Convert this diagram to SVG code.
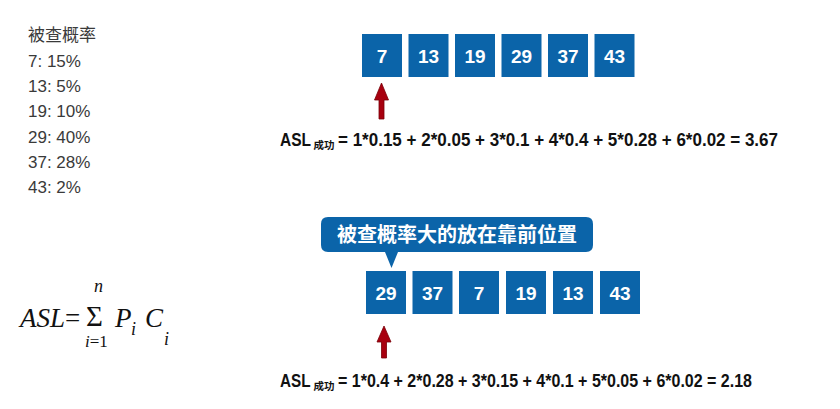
<svg xmlns="http://www.w3.org/2000/svg" width="840" height="409" viewBox="0 0 840 409">
<defs>
<style>
.box{fill:#0b64a9;}
.num{font-family:"Liberation Sans","Noto Sans",sans-serif;font-weight:bold;font-size:19px;fill:#fff;text-anchor:middle;}
.list{font-family:"Liberation Sans","Noto Sans CJK SC",sans-serif;font-size:17px;fill:#3a3a3a;}
.f{font-family:"Liberation Sans","Noto Sans CJK SC",sans-serif;font-weight:bold;fill:#111;}
.math{font-family:"Liberation Serif","Times New Roman",serif;fill:#111;}
.arrow{fill:#a8000f;stroke:#7a0008;stroke-width:0.8;}
.callout{fill:#0b64a9;}
.ctext{font-family:"Noto Sans CJK SC",sans-serif;font-weight:bold;font-size:20px;fill:#fff;text-anchor:middle;}
</style>
<path id="arr" d="M0,0 L7,17 L2.5,17 L2.5,36 L-2.5,36 L-2.5,17 L-7,17 Z"/>
<path id="arr2" d="M0,0 L7,16 L2.5,16 L2.5,32 L-2.5,32 L-2.5,16 L-7,16 Z"/>
</defs>
<rect width="840" height="409" fill="#fff"/>

<g id="prob-list">
<text class="list" x="28" y="41">被查概率</text>
<text class="list" x="28" y="66.5">7: 15%</text>
<text class="list" x="28" y="92">13: 5%</text>
<text class="list" x="28" y="117">19: 10%</text>
<text class="list" x="28" y="142.5">29: 40%</text>
<text class="list" x="28" y="168">37: 28%</text>
<text class="list" x="28" y="193">43: 2%</text>
</g>

<g id="top-array">
<g id="t7"><rect class="box" x="362" y="34" width="40" height="43"/><text class="num" x="382" y="62.5">7</text></g>
<g id="t13"><rect class="box" x="408.5" y="34" width="40" height="43"/><text class="num" x="428.5" y="62.5">13</text></g>
<g id="t19"><rect class="box" x="455" y="34" width="40" height="43"/><text class="num" x="475" y="62.5">19</text></g>
<g id="t29"><rect class="box" x="501.5" y="34" width="40" height="43"/><text class="num" x="521.5" y="62.5">29</text></g>
<g id="t37"><rect class="box" x="548" y="34" width="40" height="43"/><text class="num" x="568" y="62.5">37</text></g>
<g id="t43"><rect class="box" x="594.5" y="34" width="40" height="43"/><text class="num" x="614.5" y="62.5">43</text></g>
</g>

<g id="connectors">
<use href="#arr" class="arrow" x="381.5" y="83"/>
<use href="#arr2" class="arrow" x="384" y="326"/>
</g>

<g id="formula-top">
<text class="f" x="280" y="145.5" font-size="17.5" textLength="31" lengthAdjust="spacingAndGlyphs">ASL</text>
<text class="f" x="313.5" y="148.5" font-size="10.5" font-family="Noto Sans CJK SC,sans-serif">成功</text>
<text class="f" x="338" y="145.5" font-size="18" textLength="440" lengthAdjust="spacingAndGlyphs">= 1*0.15 + 2*0.05 + 3*0.1 + 4*0.4 + 5*0.28 + 6*0.02 = 3.67</text>
</g>

<g id="callout">
<path class="callout" d="M328,217 H586 Q593,217 593,224 V245 Q593,252 586,252 H398 L391.5,268 L385,252 H328 Q321,252 321,245 V224 Q321,217 328,217 Z"/>
<text class="ctext" x="457" y="241.5">被查概率大的放在靠前位置</text>
</g>

<g id="bottom-array">
<g id="b29"><rect class="box" x="366" y="271" width="40" height="43"/><text class="num" x="386" y="299.5">29</text></g>
<g id="b37"><rect class="box" x="412.5" y="271" width="40" height="43"/><text class="num" x="432.5" y="299.5">37</text></g>
<g id="b7"><rect class="box" x="459" y="271" width="40" height="43"/><text class="num" x="479" y="299.5">7</text></g>
<g id="b19"><rect class="box" x="506" y="271" width="40" height="43"/><text class="num" x="526" y="299.5">19</text></g>
<g id="b13"><rect class="box" x="553" y="271" width="40" height="43"/><text class="num" x="573" y="299.5">13</text></g>
<g id="b43"><rect class="box" x="600" y="271" width="40" height="43"/><text class="num" x="620" y="299.5">43</text></g>
</g>

<g id="formula-bottom">
<text class="f" x="280" y="387" font-size="17.5" textLength="30.5" lengthAdjust="spacingAndGlyphs">ASL</text>
<text class="f" x="313.5" y="390" font-size="10.5" font-family="Noto Sans CJK SC,sans-serif">成功</text>
<text class="f" x="338" y="387" font-size="18" textLength="414" lengthAdjust="spacingAndGlyphs">= 1*0.4 + 2*0.28 + 3*0.15 + 4*0.1 + 5*0.05 + 6*0.02 = 2.18</text>
</g>

<g id="asl-formula">
<text class="math" x="20" y="327" font-size="27" font-style="italic">ASL</text>
<text class="math" x="65" y="327" font-size="27">=</text>
<text class="math" x="86" y="326" font-size="29">Σ</text>
<text class="math" x="94" y="292" font-size="18" font-style="italic">n</text>
<text class="math" x="85" y="347" font-size="17"><tspan font-style="italic">i</tspan>=1</text>
<text class="math" x="115" y="327" font-size="27" font-style="italic">P</text>
<text class="math" x="131" y="335" font-size="18" font-style="italic">i</text>
<text class="math" x="145" y="327" font-size="27" font-style="italic">C</text>
<text class="math" x="164" y="345" font-size="18" font-style="italic">i</text>
</g>
</svg>
